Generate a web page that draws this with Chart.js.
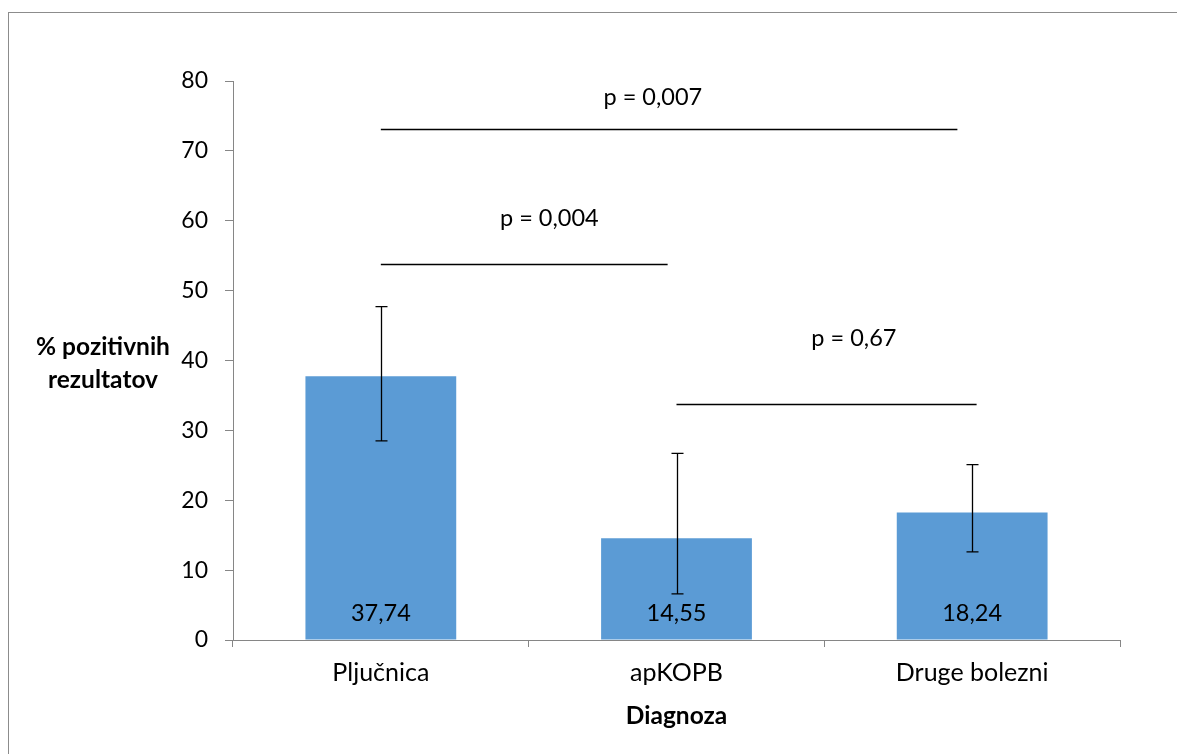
<!DOCTYPE html>
<html>
<head>
<meta charset="utf-8">
<script src="https://cdn.jsdelivr.net/npm/chart.js@4.4.1/dist/chart.umd.min.js"></script>
<style>
  html, body { margin: 0; padding: 0; background: #fff; }
  canvas { display: block; }
</style>
</head>
<body>
<canvas id="chart" width="1177" height="754"></canvas>
<script>
/* data */
const categories      = ['Pljučnica', 'apKOPB', 'Druge bolezni'];
const percentPositive = [37.74, 14.55, 18.24];
const valueLabels     = ['37,74', '14,55', '18,24'];
const errLow          = [28.5, 6.6, 12.6];
const errHigh         = [47.7, 26.7, 25.1];

/* significance brackets: category index positions + level on y */
const pFrom   = [0, 0, 1];
const pTo     = [1.95, 0.97, 2.015];
const pLevel  = [73.2, 53.8, 33.8];
const pText   = ['p = 0,007', 'p = 0,004', 'p = 0,67'];
const pTextX  = [0.92, 0.57, 1.6];
const pTextY  = [77.7, 60.4, 43.2];

const yTitle  = ['% pozitivnih', 'rezultatov'];
const xTitle  = 'Diagnoza';

const FONT = 'Lato, "Open Sans", sans-serif';
const AXIS = '#868686';

Chart.defaults.font.family = FONT;
Chart.defaults.color = '#000';

/* error bars, brackets, value labels, titles, frame */
const extras = {
  id: 'extras',
  afterDatasetsDraw(chart) {
    const { ctx, scales: { x, y } } = chart;
    ctx.save();
    ctx.strokeStyle = '#000';
    ctx.lineWidth = 1.3;

    // error bars
    categories.forEach((c, i) => {
      const cx = Math.round(x.getPixelForValue(i)) + 0.5;
      const lo = y.getPixelForValue(errLow[i]);
      const hi = y.getPixelForValue(errHigh[i]);
      ctx.beginPath();
      ctx.moveTo(cx, lo); ctx.lineTo(cx, hi);
      ctx.moveTo(cx - 6, hi); ctx.lineTo(cx + 6, hi);
      ctx.moveTo(cx - 6, lo); ctx.lineTo(cx + 6, lo);
      ctx.stroke();
    });

    // value labels inside bars
    ctx.fillStyle = '#000';
    ctx.font = '23.5px ' + FONT;
    ctx.textAlign = 'center';
    ctx.textBaseline = 'middle';
    valueLabels.forEach((t, i) => {
      ctx.fillText(t, x.getPixelForValue(i), y.getPixelForValue(0) - 27);
    });

    // brackets
    pText.forEach((t, i) => {
      const ly = Math.round(y.getPixelForValue(pLevel[i])) + 0.5;
      ctx.beginPath();
      ctx.moveTo(x.getPixelForValue(pFrom[i]), ly);
      ctx.lineTo(x.getPixelForValue(pTo[i]), ly);
      ctx.stroke();
      ctx.fillText(t, x.getPixelForValue(pTextX[i]), y.getPixelForValue(pTextY[i]));
    });

    // axis titles
    ctx.font = 'bold 24.5px ' + FONT;
    ctx.fillText(yTitle[0], 103, 347);
    ctx.fillText(yTitle[1], 103, 380);
    ctx.fillText(xTitle, (chart.chartArea.left + chart.chartArea.right) / 2, 716);

    // outer frame
    ctx.strokeStyle = '#8c8c8c';
    ctx.lineWidth = 1;
    ctx.strokeRect(8.5, 12.5, 1200, 800);
    ctx.restore();
  }
};

new Chart(document.getElementById('chart'), {
  type: 'bar',
  data: {
    labels: categories,
    datasets: [{
      data: percentPositive,
      backgroundColor: '#5B9BD5',
      borderWidth: 0,
      barPercentage: 0.51,
      categoryPercentage: 1
    }]
  },
  options: {
    responsive: false,
    animation: false,
    layout: { padding: { left: 0, top: 81, right: 57, bottom: 0 } },
    plugins: { legend: { display: false }, tooltip: { enabled: false } },
    scales: {
      x: {
        afterFit: s => { s.height = 114; },
        grid: { drawOnChartArea: false, offset: true, tickLength: 7, color: AXIS },
        border: { color: AXIS },
        ticks: { font: { size: 25 }, padding: 11, color: '#000' }
      },
      y: {
        min: 0, max: 80,
        afterFit: s => { s.width = 233; },
        grid: { drawOnChartArea: false, tickLength: 8, color: AXIS },
        border: { color: AXIS },
        ticks: { stepSize: 10, font: { size: 23 }, padding: 17, color: '#000' }
      }
    }
  },
  plugins: [extras]
});
</script>
</body>
</html>
